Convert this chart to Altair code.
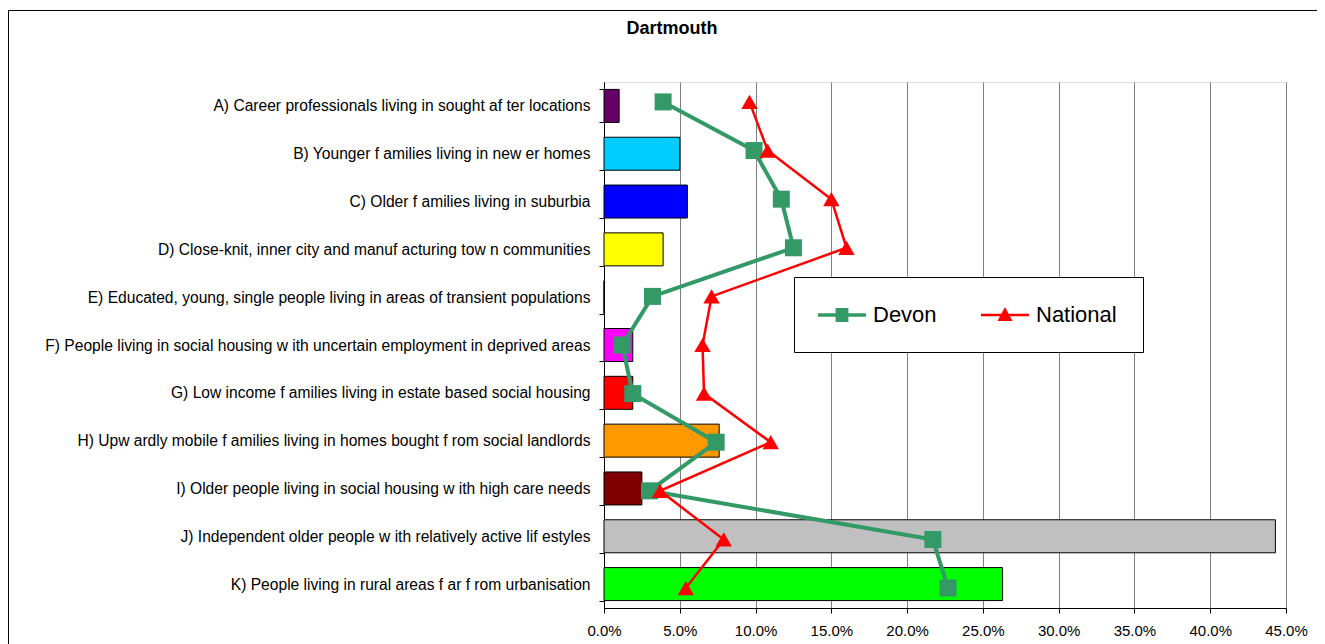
import altair as alt
import pandas as pd

title_text = "Dartmouth"
categories = [
    "A) Career professionals living in sought af ter locations",
    "B) Younger f amilies living in new er homes",
    "C) Older f amilies living in suburbia",
    "D) Close-knit, inner city and manuf acturing tow n communities",
    "E) Educated, young, single people living in areas of transient populations",
    "F) People living in social housing w ith uncertain employment in deprived areas",
    "G) Low  income f amilies living in estate based social housing",
    "H) Upw ardly mobile f amilies living in homes bought f rom social landlords",
    "I) Older people living in social housing w ith high care needs",
    "J) Independent older people w ith relatively active lif estyles",
    "K) People living in rural areas f ar f rom urbanisation",
]
bar_values = [0.010, 0.050, 0.055, 0.039, 0.0, 0.019, 0.019, 0.076, 0.025, 0.443, 0.263]
bar_colors = ["#660066", "#00CCFF", "#0000FF", "#FFFF00", "#FFFFFF", "#FF00FF",
              "#FF0000", "#FF9900", "#800000", "#C0C0C0", "#00FF00"]
devon = [0.039, 0.099, 0.117, 0.125, 0.032, 0.012, 0.019, 0.074, 0.030, 0.217, 0.227]
national = [0.096, 0.108, 0.150, 0.160, 0.071, 0.065, 0.066, 0.110, 0.037, 0.079, 0.054]
series_names = ["Devon", "National"]
series_colors = ["#339966", "#FF0000"]
x_ticks = [0.0, 0.05, 0.10, 0.15, 0.20, 0.25, 0.30, 0.35, 0.40, 0.45]

FONT = "Liberation Sans"
W, H = 682, 526

bars_df = pd.DataFrame({"category": categories, "value": bar_values,
                        "idx": list(range(len(categories)))})
rows = []
for name, vals in zip(series_names, [devon, national]):
    for i, (c, v) in enumerate(zip(categories, vals)):
        rows.append({"category": c, "series": name, "value": v, "idx": i})
lines_df = pd.DataFrame(rows)

x_enc = alt.X("value:Q",
              scale=alt.Scale(domain=[0, 0.45], nice=False, zero=True),
              axis=alt.Axis(values=x_ticks, format=".1%", title=None, grid=True,
                            gridColor="#808080", gridWidth=1, tickSize=5,
                            tickColor="black", domainColor="black", labelFlush=False,
                            labelPadding=10, labelFontSize=15, labelFont=FONT,
                            labelColor="black"))

y_band = alt.Y("category:N", sort=categories,
               scale=alt.Scale(domain=categories, paddingInner=0.31, paddingOuter=0.155),
               axis=alt.Axis(title=None, tickBand="extent", tickSize=5, tickColor="black",
                             domainColor="black", labelPadding=9, labelFontSize=15.6,
                             labelFont=FONT, labelColor="black", labelLimit=800,
                             grid=False))

y_point = alt.Y("category:N", sort=categories,
                scale=alt.Scale(type="point", domain=categories, padding=0.41),
                axis=None)

bars = alt.Chart(bars_df).mark_bar(stroke="black", strokeWidth=1).encode(
    x=x_enc,
    y=y_band,
    color=alt.Color("category:N", scale=alt.Scale(domain=categories, range=bar_colors),
                    legend=None),
)

def series_layers(name, color, width, shape, size):
    base = alt.Chart(lines_df).transform_filter(alt.datum.series == name)
    line = base.mark_line(color=color, strokeWidth=width).encode(
        x=x_enc, y=y_point, order=alt.Order("idx:Q"))
    pts = base.mark_point(shape=shape, filled=True, color=color, size=size,
                          opacity=1, strokeWidth=0).encode(x=x_enc, y=y_point)
    return line, pts

devon_line, devon_pts = series_layers("Devon", series_colors[0], 4, "square", 289)
nat_line, nat_pts = series_layers("National", series_colors[1], 2.5, "triangle-up", 270)

# legend glyphs: a line segment with the marker on it (unit = 12px)
devon_path = "M-1.167,-0.15H2.833V0.15H-1.167Z M0.3,-0.58H1.366V0.58H0.3Z"
national_path = "M-1.167,-0.1H2.833V0.1H-1.167Z M0.208,0.5L0.833,-0.667L1.458,0.5Z"

legend_def = alt.Legend(orient="none", legendX=190, legendY=195, direction="horizontal",
                        title=None, fillColor="white", strokeColor="black", padding=26,
                        symbolSize=576, symbolStrokeWidth=0, symbolOpacity=1,
                        labelFontSize=22, labelFont=FONT, labelColor="black",
                        labelOffset=29, columnPadding=43, cornerRadius=0)

legend_layer = alt.Chart(lines_df).mark_point(opacity=0, filled=True).encode(
    x=x_enc, y=y_point,
    fill=alt.Fill("series:N", scale=alt.Scale(domain=series_names, range=series_colors),
                  legend=legend_def),
    shape=alt.Shape("series:N", scale=alt.Scale(domain=series_names,
                                                 range=[devon_path, national_path]),
                    legend=legend_def),
)

title_layer = alt.Chart(pd.DataFrame({"t": [title_text]})).mark_text(
    font=FONT, fontSize=18, fontWeight="bold", align="center", baseline="middle",
    color="black").encode(
    text="t:N", x=alt.value(68), y=alt.value(-53))

frame_layer = alt.Chart(pd.DataFrame({"f": [0]})).mark_rect(
    fillOpacity=0, stroke="black", strokeWidth=1).encode(
    x=alt.value(-595.5), x2=alt.value(900), y=alt.value(-71.5), y2=alt.value(800))

chart = alt.layer(
    frame_layer, bars, devon_line, nat_line, devon_pts, nat_pts, legend_layer, title_layer
).resolve_scale(y="independent").properties(
    width=W, height=H,
    autosize=alt.AutoSizeParams(type="none"),
    padding={"left": 596, "top": 74, "right": 31, "bottom": 36},
).configure_view(stroke="#808080", strokeWidth=1).configure(background="white")

chart.save("out.html", embed_options={"renderer": "svg", "actions": False})
